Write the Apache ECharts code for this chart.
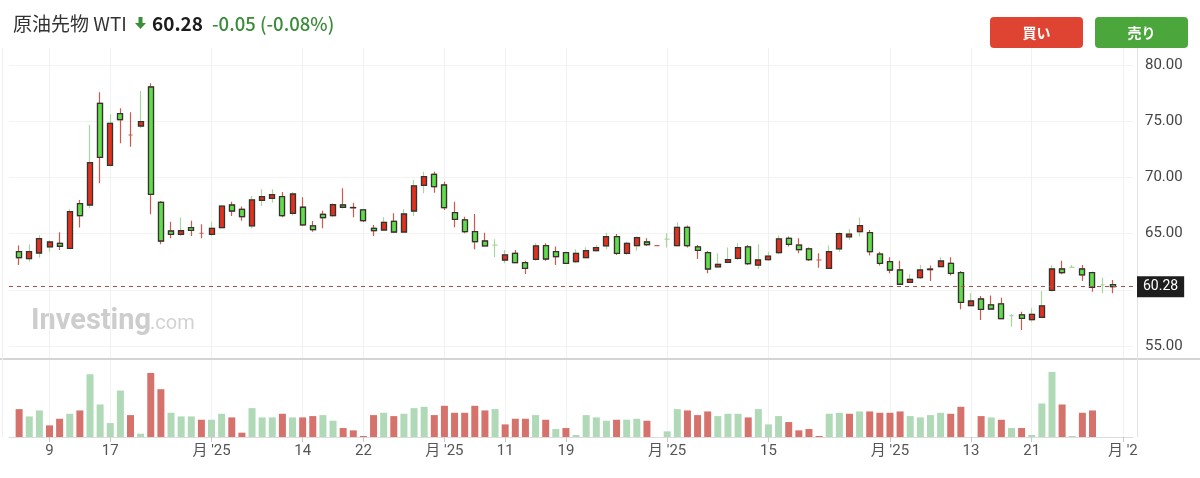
<!DOCTYPE html>
<html><head><meta charset="utf-8">
<script src="https://cdn.jsdelivr.net/npm/echarts@6/dist/echarts.min.js"></script>
<style>html,body{margin:0;padding:0;background:#fff}#c{width:1200px;height:478px}</style>
</head><body><div id="c"></div>
<script>
// ---- data ----
const padBefore = ['06-03'];
const dates = ['06-04','06-05','06-06','06-09','06-10','06-11','06-12','06-13','06-16','06-17',
 '06-18','06-19','06-20','06-23','06-24','06-25','06-26','06-27','06-30','07-01',
 '07-02','07-03','07-04','07-07','07-08','07-09','07-10','07-11','07-14','07-15',
 '07-16','07-17','07-18','07-21','07-22','07-23','07-24','07-25','07-28','07-29',
 '07-30','07-31','08-01','08-04','08-05','08-06','08-07','08-08','08-11','08-12',
 '08-13','08-14','08-15','08-18','08-19','08-20','08-21','08-22','08-25','08-26',
 '08-27','08-28','08-29','08-31','09-01','09-02','09-03','09-04','09-05','09-08',
 '09-09','09-10','09-11','09-12','09-15','09-16','09-17','09-18','09-19','09-22',
 '09-23','09-24','09-25','09-26','09-29','09-30','10-01','10-02','10-03','10-06',
 '10-07','10-08','10-09','10-10','10-13','10-14','10-15','10-16','10-17','10-20',
 '10-21','10-22','10-23','10-24','10-27','10-28','10-29','10-30','10-31'];
const padAfter = ['11-03','11-04'];

const opens = [63.39,62.77,63.27,63.81,64.13,63.69,67.66,67.54,76.59,71.07,
 75.67,73.77,74.57,78.04,67.78,65.23,64.93,65.53,65.03,64.93,
 65.53,67.54,67.16,65.68,67.96,68.14,68.29,66.80,67.34,65.68,
 66.71,66.60,67.54,67.32,67.10,65.47,65.32,66.09,65.14,67.01,
 69.29,70.27,69.32,66.86,66.21,65.17,64.34,63.98,62.65,63.24,
 62.41,62.71,63.93,63.39,63.30,62.50,62.86,63.48,63.90,64.73,
 63.24,63.93,64.25,63.93,64.50,63.93,65.56,63.81,63.30,62.03,
 62.44,62.80,63.81,62.20,62.68,63.30,64.58,63.98,63.63,62.65,
 61.91,63.63,64.70,65.17,65.08,63.18,62.50,61.76,60.66,61.08,
 61.84,62.06,62.35,61.52,58.59,59.18,58.65,58.74,57.70,57.76,
 57.34,57.55,59.95,61.85,62.00,61.85,61.52,60.43,60.45];
const closes = [62.86,63.39,64.55,64.25,63.87,66.95,66.60,71.31,71.78,74.81,
 75.14,73.77,74.96,68.49,64.34,64.93,65.25,65.28,65.03,65.47,
 67.45,67.01,66.51,67.99,68.29,68.46,66.60,68.52,65.77,65.35,
 66.42,67.57,67.34,67.30,66.15,65.26,66.00,65.14,66.74,69.24,
 70.07,69.18,67.31,66.27,65.17,64.28,63.90,63.98,63.10,62.41,
 61.91,63.90,62.74,62.95,62.35,63.24,63.48,63.75,64.73,63.24,
 64.13,64.64,64.02,63.93,64.50,65.56,63.93,63.51,61.85,62.26,
 62.68,63.75,62.32,62.65,63.00,64.52,64.04,63.57,62.68,62.65,
 63.39,65.00,64.95,65.71,63.39,62.35,61.76,60.49,60.93,61.76,
 61.80,62.56,61.46,58.88,59.00,58.26,58.29,57.43,57.70,57.46,
 57.82,58.56,61.85,61.52,62.00,61.32,60.22,60.43,60.28];
const lows = [62.21,62.50,62.86,63.39,63.54,63.63,65.53,67.25,69.47,71.00,
 73.03,72.73,74.36,66.71,64.05,64.58,64.79,64.79,64.58,64.79,
 65.47,66.57,66.15,65.47,67.46,67.75,66.45,66.60,65.68,65.17,
 65.47,66.45,67.25,66.45,66.03,64.79,65.30,65.08,65.10,66.57,
 68.58,68.64,67.10,65.56,65.02,63.60,63.84,62.89,62.35,62.35,
 61.41,62.59,62.59,62.21,62.29,62.35,62.80,63.39,63.60,63.10,
 63.10,63.48,63.90,63.93,63.75,63.84,63.75,62.74,61.46,61.97,
 62.35,62.65,62.20,61.85,62.56,63.15,63.84,63.24,62.56,61.97,
 61.91,63.39,64.43,64.73,63.04,62.15,61.46,60.43,60.60,60.96,
 60.78,62.00,61.26,58.26,58.55,57.31,58.25,57.37,56.72,56.42,
 57.16,57.50,59.83,61.38,61.95,60.78,59.83,59.69,59.69];
const highs = [63.93,64.05,64.82,64.40,65.11,67.16,67.99,74.66,77.57,75.61,
 76.14,75.79,77.69,78.37,67.90,66.06,66.42,66.15,65.82,66.06,
 67.55,67.84,67.40,68.35,68.94,68.94,68.70,68.70,68.23,66.12,
 67.04,67.70,69.03,67.75,67.16,65.77,66.45,66.80,67.16,69.77,
 70.51,70.51,69.62,67.84,66.50,66.74,65.08,64.49,63.54,63.54,
 62.59,64.13,64.13,63.84,63.39,63.60,63.78,63.98,65.08,64.96,
 64.28,64.73,64.58,63.93,65.02,66.00,65.71,63.98,63.45,63.24,
 63.75,64.13,63.98,64.04,63.39,64.82,64.73,64.58,63.75,63.24,
 63.93,65.11,65.41,66.42,65.32,63.39,62.89,62.59,61.38,62.21,
 62.15,62.89,62.89,61.67,59.69,59.45,59.48,59.30,57.82,58.05,
 58.35,59.89,62.21,62.59,62.21,62.21,61.60,61.08,60.87];
const volumes = [84,62,80,35,55,70,80,189,98,42,
 140,66,10,193,144,73,62,62,52,52,
 70,59,13,87,59,59,70,59,59,63,
 66,49,27,20,3,66,73,63,70,87,
 91,66,94,73,73,94,80,84,38,55,
 55,66,52,24,27,6,66,59,49,52,
 52,55,49,0,17,84,80,66,77,63,
 70,70,59,84,38,63,45,20,24,3,
 70,73,70,77,77,73,73,77,63,59,
 66,73,70,91,0,63,59,52,27,27,
 6,101,196,98,3,73,80,0,0];
const tickLabels = {
 '06-09':'9','06-17':'17','07-01':"月 '25",'07-14':'14','07-22':'22','08-01':"月 '25",
 '08-11':'11','08-19':'19','09-01':"月 '25",'09-15':'15','10-01':"月 '25",'10-13':'13',
 '10-21':'21','11-03':"月 '2"
};
const priceTicks = [55, 65, 70, 75, 80];
const lastPrice = closes[closes.length - 1];

// ---- styles ----
const BODY_UP = '#e3311d', BODY_DOWN = '#60dd48', BORDER = '#333333';
const WICK_UP = '#a9d69e', WICK_DOWN = '#cc5b4d';
const VOL_UP = '#b0d9b7', VOL_DOWN = '#d6726c';
const FONT = 'Roboto, "Noto Sans CJK JP", sans-serif';
const JFONT = '"Noto Sans CJK JP", sans-serif';

const cats = padBefore.concat(dates, padAfter);
const EMPTY = ['-','-','-','-'];
const wickData = padBefore.map(() => EMPTY);
const bodyData = padBefore.map(() => EMPTY);
const volData = padBefore.map(() => '-');
for (let i = 0; i < dates.length; i++) {
  const o = opens[i], c = closes[i];
  let d = c > o ? 1 : c < o ? -1 : (i > 0 && closes[i-1] > c ? -1 : 1);
  const wc = d > 0 ? WICK_UP : WICK_DOWN;
  wickData.push({ value: [o, c, lows[i], highs[i]],
    itemStyle: { color: wc, color0: wc, borderColor: wc, borderColor0: wc, borderColorDoji: wc } });
  bodyData.push(o !== c ? [o, c, Math.min(o, c), Math.max(o, c)] : EMPTY);
  const prev = i > 0 ? closes[i-1] : o;
  volData.push({ value: volumes[i], itemStyle: { color: c >= prev ? VOL_UP : VOL_DOWN } });
}
padAfter.forEach(() => { wickData.push(EMPTY); bodyData.push(EMPTY); volData.push('-'); });

const showTick = (idx, val) => tickLabels[val] !== undefined;

const chart = echarts.init(document.getElementById('c'), null, { renderer: 'canvas' });
chart.setOption({
  animation: false,
  backgroundColor: '#fff',
  grid: [
    { left: 9, right: 67, top: 48, height: 310 },
    { left: 9, right: 67, top: 360, height: 77 }
  ],
  xAxis: [
    { type: 'category', gridIndex: 0, data: cats, boundaryGap: false,
      axisLine: { show: false }, axisTick: { show: false }, axisLabel: { show: false },
      splitLine: { show: true, interval: showTick, lineStyle: { color: '#f1f1f1', width: 1 } } },
    { type: 'category', gridIndex: 1, data: cats, boundaryGap: false,
      axisLine: { show: true, lineStyle: { color: '#dcdcdc' } },
      axisTick: { show: true, interval: showTick, length: 5, lineStyle: { color: '#c8c8c8' } },
      axisLabel: { show: true, interval: showTick, formatter: v => tickLabels[v] || '',
        color: '#555', fontSize: 15, fontFamily: FONT, margin: 7 },
      splitLine: { show: true, interval: showTick, lineStyle: { color: '#f1f1f1', width: 1 } } }
  ],
  yAxis: [
    { type: 'value', gridIndex: 0, position: 'right', min: 53.93, max: 81.51,
      splitNumber: 5, minInterval: 5, maxInterval: 5, scale: true,
      axisLine: { show: false }, axisTick: { show: false },
      axisLabel: { color: '#444', fontSize: 15, fontFamily: FONT, margin: 12,
        showMinLabel: false, showMaxLabel: false,
        formatter: v => priceTicks.some(t => Math.abs(t - v) < 1e-6) ? v.toFixed(2) : '' },
      splitLine: { show: true, showMinLine: false, showMaxLine: false, lineStyle: { color: '#f3f3f3' } } },
    { type: 'value', gridIndex: 1, min: 0, max: 232, show: false, splitLine: { show: false } }
  ],
  series: [
    { type: 'candlestick', name: 'wick', xAxisIndex: 0, yAxisIndex: 0, data: wickData,
      barWidth: 5, itemStyle: { borderWidth: 1.2 }, silent: true },
    { type: 'candlestick', name: 'body', xAxisIndex: 0, yAxisIndex: 0, data: bodyData,
      barWidth: 5.5,
      itemStyle: { color: BODY_UP, color0: BODY_DOWN, borderColor: BORDER, borderColor0: BORDER,
        borderColorDoji: BORDER, borderWidth: 1.3 },
      markLine: { silent: true, symbol: ['none', 'none'], animation: false,
        data: [{ yAxis: lastPrice }],
        lineStyle: { color: '#a8504a', type: [4, 4], width: 1 },
        label: { position: 'end', distance: 4, formatter: lastPrice.toFixed(2),
          backgroundColor: '#1e1e1e', color: '#fff', fontSize: 14, fontFamily: FONT,
          padding: [4, 6, 3, 6] } } },
    { type: 'bar', name: 'vol', xAxisIndex: 1, yAxisIndex: 1, data: volData, barWidth: 7 }
  ],
  graphic: [
    { type: 'text', x: 13, y: 24, style: { text: '原油先物 WTI', fontSize: 19, fontFamily: JFONT,
      fill: '#333', verticalAlign: 'middle' } },
    { type: 'polygon', shape: { points: [[138.5,17],[142.5,17],[142.5,23],[146,23],[140.5,29],[135,23],[138.5,23]] },
      style: { fill: '#3c8d3c' } },
    { type: 'text', x: 152, y: 24, style: { text: '60.28', fontSize: 19, fontWeight: 'bold', fontFamily: JFONT,
      fill: '#1c1c1c', verticalAlign: 'middle' } },
    { type: 'text', x: 212, y: 24, style: { text: '-0.05 (-0.08%)', fontSize: 18.5, fontWeight: 500, fontFamily: JFONT,
      fill: '#3a8b3a', verticalAlign: 'middle' } },
    { type: 'rect', shape: { x: 990, y: 17, width: 93, height: 31, r: 4 }, style: { fill: '#df4433' } },
    { type: 'text', x: 1036.5, y: 32.5, style: { text: '買い', fontSize: 14, fontWeight: 'bold', fontFamily: JFONT,
      fill: '#fff', align: 'center', verticalAlign: 'middle' } },
    { type: 'rect', shape: { x: 1095, y: 17, width: 93, height: 31, r: 4 }, style: { fill: '#4ba73b' } },
    { type: 'text', x: 1141.5, y: 32.5, style: { text: '売り', fontSize: 14, fontWeight: 'bold', fontFamily: JFONT,
      fill: '#fff', align: 'center', verticalAlign: 'middle' } },
    { type: 'text', x: 31, y: 336, z: -1, style: { text: 'Investing', fontSize: 29, fontWeight: 'bold',
      fontFamily: 'Roboto, sans-serif', fill: '#cdcdcd', verticalAlign: 'bottom' } },
    { type: 'text', x: 150, y: 334, z: -1, style: { text: '.com', fontSize: 20,
      fontFamily: 'Roboto, sans-serif', fill: '#d2d2d2', verticalAlign: 'bottom' } },
    { type: 'line', shape: { x1: 0, y1: 359, x2: 1200, y2: 359 }, style: { stroke: '#d4d4d4', lineWidth: 2 } },
    { type: 'line', shape: { x1: 1137.5, y1: 48, x2: 1137.5, y2: 437 }, style: { stroke: '#e2e2e2', lineWidth: 1 } },
    { type: 'line', shape: { x1: 2.5, y1: 48, x2: 2.5, y2: 437 }, style: { stroke: '#efefef', lineWidth: 1 } }
  ]
});
</script>
</body></html>
